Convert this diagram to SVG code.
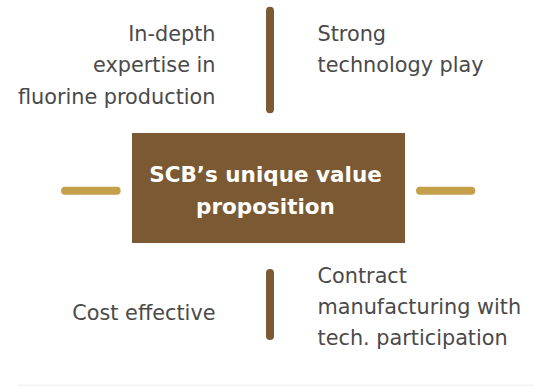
<svg xmlns="http://www.w3.org/2000/svg" width="534" height="386" viewBox="0 0 534 386">
<style>
.t{font-family:"DejaVu Sans",Verdana,sans-serif;font-size:20.8px;fill:#4a4a4a}
.r{text-anchor:end}
.c{font-family:"DejaVu Sans",Verdana,sans-serif;font-size:21.5px;font-weight:bold;fill:#ffffff;text-anchor:middle}
.vb{stroke:#7b5a33;stroke-width:8;stroke-linecap:round}
.hb{stroke:#c4a04d;stroke-width:8;stroke-linecap:round}
</style>
<rect x="0" y="0" width="534" height="386" fill="#ffffff"/>
<rect x="18" y="384.5" width="516" height="1.5" fill="#f3f3f3"/>
<g id="connectors">
<line class="vb" x1="270" y1="10.7" x2="270" y2="109.3"/>
<line class="vb" x1="270" y1="273" x2="270" y2="336"/>
<line class="hb" x1="65" y1="190.7" x2="116.7" y2="190.7"/>
<line class="hb" x1="420" y1="190.7" x2="471.3" y2="190.7"/>
</g>
<g id="center">
<rect x="132" y="133" width="273" height="110" fill="#7b5a33"/>
<text class="c" x="265.5" y="181.7">SCB’s unique value</text>
<text class="c" x="265.5" y="213.5">proposition</text>
</g>
<g id="top-left">
<text class="t r" x="215.5" y="40.5">In-depth</text>
<text class="t r" x="215.5" y="72">expertise in</text>
<text class="t r" x="215.5" y="103.5">fluorine production</text>
</g>
<g id="top-right">
<text class="t" x="317.5" y="40.5">Strong</text>
<text class="t" x="317.5" y="72">technology play</text>
</g>
<g id="bottom-left">
<text class="t r" x="215.5" y="320">Cost effective</text>
</g>
<g id="bottom-right">
<text class="t" x="317.5" y="283">Contract</text>
<text class="t" x="317.5" y="314">manufacturing with</text>
<text class="t" x="317.5" y="345">tech. participation</text>
</g>
</svg>
